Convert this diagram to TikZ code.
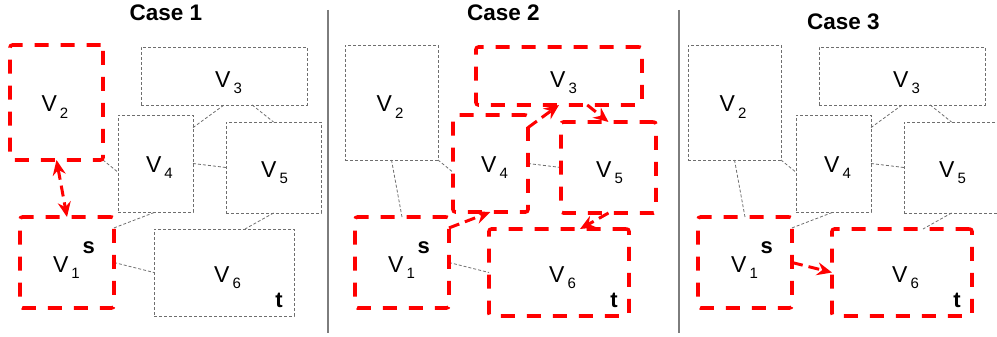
\documentclass[tikz,border=0pt]{standalone}
\usepackage{fontspec}
\setmainfont{Liberation Sans}
\usetikzlibrary{calc,arrows.meta}
\pgfdeclarelayer{bg}
\pgfsetlayers{bg,main}

\definecolor{hot}{RGB}{255,0,0}
\definecolor{cold}{RGB}{110,110,110}
\definecolor{divider}{RGB}{125,125,125}

\tikzset{
  >={Stealth[length=15pt,width=13pt,inset=5pt]},
  region/.style={rectangle, inner sep=0pt, outer sep=0pt},
  idle/.style={region, draw=cold, line width=0.9pt, dash pattern=on 3pt off 2pt},
  active/.style={region, draw=hot, line width=3.6pt, dash pattern=on 14pt off 12pt, rounded corners=2.5pt},
  link/.style={draw=cold, line width=0.8pt, dash pattern=on 3pt off 2pt},
  flow/.style={draw=hot, line width=3pt, dash pattern=on 11pt off 6pt, ->},
  flowboth/.style={flow, <->},
  vlabel/.style={anchor=base, inner sep=0pt, font=\fontsize{23}{23}\selectfont},
  term/.style={anchor=base east, inner sep=0pt, font=\fontsize{22}{22}\selectfont\bfseries},
  title/.style={anchor=base, inner sep=0pt, font=\fontsize{22.5}{22.5}\selectfont\bfseries},
}

% V with a lowered index
\newcommand\vsub[1]{V\kern3pt\raisebox{-6pt}{\fontsize{15}{15}\selectfont#1}}

% the six regions of one case, each with its own style
\newcommand\regions[6]{%
  \node[#1, minimum width=94,  minimum height=91]  (v1) at (67,262.5)   {};
  \node[#2, minimum width=93,  minimum height=115] (v2) at (56.5,102.5) {};
  \node[#3, minimum width=166, minimum height=58]  (v3) at (224,76)     {};
  \node[#4, minimum width=75,  minimum height=97]  (v4) at (155.5,163.5) {};
  \node[#5, minimum width=95,  minimum height=91]  (v5) at (273.5,167.5) {};
  \node[#6, minimum width=140, minimum height=87]  (v6) at (224,272.5)  {};
  \node[vlabel] (l1) at (66.5,272)  {\vsub1};
  \node[vlabel] (l2) at (55,112)    {\vsub2};
  \node[vlabel] (l3) at (228.5,88)  {\vsub3};
  \node[vlabel] (l4) at (159.5,172) {\vsub4};
  \node[vlabel] (l5) at (274.5,177) {\vsub5};
  \node[vlabel] (l6) at (227.5,282) {\vsub6};
  \node[term] (s) at (95,253)  {s};
  \node[term] (t) at (283,307) {t};
}

% the adjacencies between regions, each with its own style
\newcommand\links[8]{%
  \begin{pgfonlayer}{bg}
  \draw[#1] (v2.south) -- (v1.north);
  \draw[#2] (v2.south east) -- ($(v4.north west)!0.59!(v4.south west)$);
  \draw[#3] ($(v1.north east)!0.12!(v1.south east)$) -- (v4.south);
  \draw[#4] ($(v4.north east)!0.13!(v4.south east)$) -- (v3.south);
  \draw[#5] ($(v3.south west)!0.67!(v3.south east)$) -- (v5.north);
  \draw[#6] (v4.east) -- (v5.west);
  \draw[#7] (v5.south) -- ($(v6.north west)!0.65!(v6.north east)$);
  \draw[#8] (v1.east) -- (v6.west);
  \end{pgfonlayer}
}

\begin{document}
\begin{tikzpicture}[x=1pt, y=-1pt]
  \useasboundingbox (0,0) rectangle (997,337);
  \clip (0,0) rectangle (997,337);

  \node[title] (t1) at (166,21)   {Case 1};
  \node[title] (t2) at (503.5,21) {Case 2};
  \node[title] (t3) at (843.5,30) {Case 3};

  \draw[divider, line width=1.2pt] (328,10) -- (328,333);
  \draw[divider, line width=1.2pt] (679,10) -- (679,333);

  \begin{scope}[name prefix=a-]
    \regions{active}{active}{idle}{idle}{idle}{idle}
    \links{flowboth}{link}{link}{link}{link}{link}{link}{link}
  \end{scope}

  \begin{scope}[xshift=335, name prefix=b-]
    \regions{active}{idle}{active}{active}{active}{active}
    \links{link}{link}{flow}{flow}{flow}{link}{flow}{link}
  \end{scope}

  \begin{scope}[xshift=678, name prefix=c-]
    \regions{active}{idle}{idle}{idle}{idle}{active}
    \links{link}{link}{link}{link}{link}{link}{link}{flow}
  \end{scope}
\end{tikzpicture}
\end{document}
